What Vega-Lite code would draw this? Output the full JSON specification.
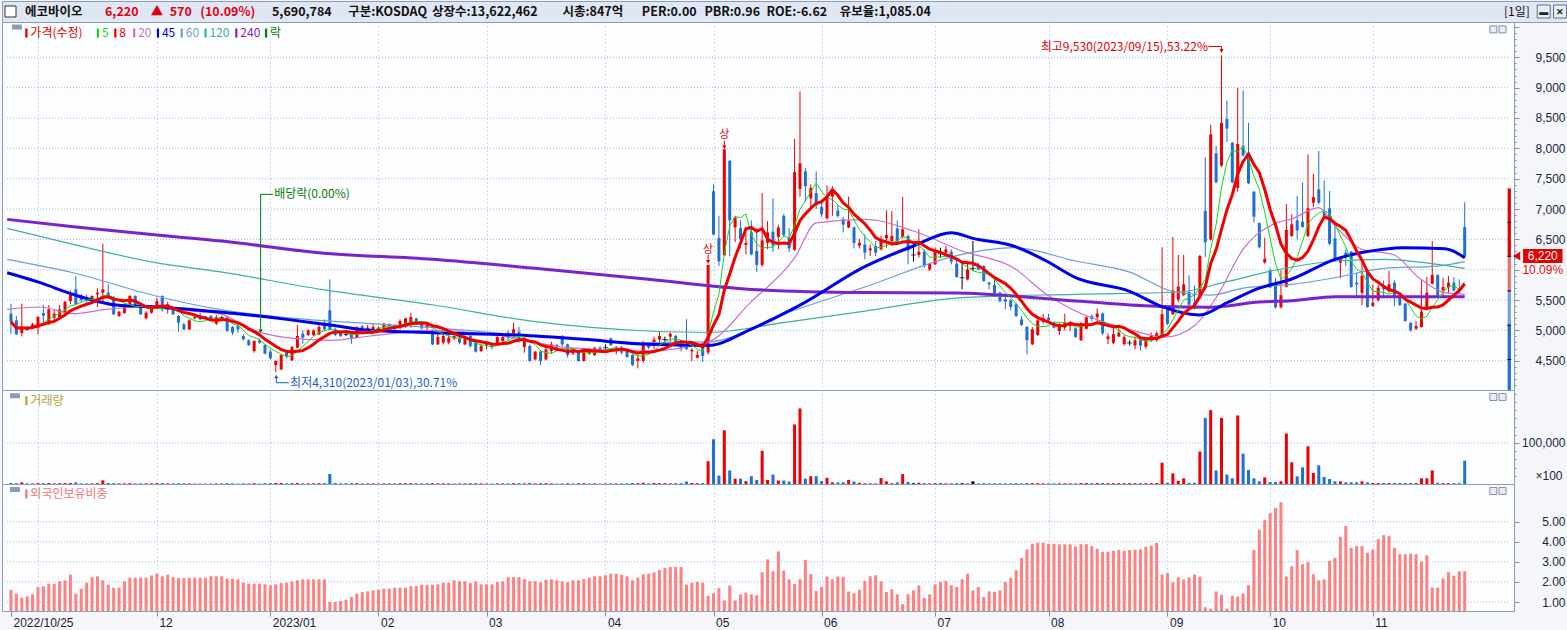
{
  "$schema": "https://vega.github.io/schema/vega-lite/v6.json",
  "background": "#f4f6f9",
  "padding": 0,
  "spacing": 0,
  "bounds": "flush",
  "resolve": {"scale": {"x": "independent", "y": "independent", "color": "independent"}},
  "config": {
    "view": {"fill": "#fcfdff", "stroke": "#8c9db7"},
    "font": "Noto Sans CJK KR",
    "axis": {"labelFont": "Liberation Sans", "labelFontSize": 12, "labelColor": "#1c2540", "tickColor": "#7d8ea8", "domainColor": "#8c9db7", "gridColor": "#aeb7c4", "gridDash": [1, 2]}
  },
  "datasets": {
    "c": [
      {"i":0,"o":5275,"h":5440,"l":4944,"c":5143,"v":250000,"f":1.61},
      {"i":1,"o":5165,"h":5236,"l":4923,"c":4934,"v":200000,"f":1.41},
      {"i":2,"o":4956,"h":5440,"l":4901,"c":5055,"v":400000,"f":1.21},
      {"i":3,"o":5044,"h":5072,"l":4989,"c":5006,"v":150000,"f":1.28},
      {"i":4,"o":5044,"h":5126,"l":5017,"c":5099,"v":150000,"f":1.38},
      {"i":5,"o":5044,"h":5236,"l":4934,"c":5220,"v":200000,"f":1.74},
      {"i":6,"o":5286,"h":5418,"l":5088,"c":5242,"v":200000,"f":1.78},
      {"i":7,"o":5099,"h":5418,"l":5088,"c":5346,"v":250000,"f":1.91},
      {"i":8,"o":5209,"h":5346,"l":5154,"c":5275,"v":150000,"f":1.91},
      {"i":9,"o":5220,"h":5418,"l":5209,"c":5346,"v":200000,"f":2.03},
      {"i":10,"o":5275,"h":5483,"l":5264,"c":5473,"v":250000,"f":2.08},
      {"i":11,"o":5483,"h":5659,"l":5429,"c":5582,"v":250000,"f":2.36},
      {"i":12,"o":5676,"h":5895,"l":5418,"c":5429,"v":400000,"f":1.41},
      {"i":13,"o":5577,"h":5593,"l":5473,"c":5495,"v":150000,"f":1.66},
      {"i":14,"o":5549,"h":5593,"l":5456,"c":5495,"v":150000,"f":1.96},
      {"i":15,"o":5473,"h":5577,"l":5456,"c":5566,"v":150000,"f":2.24},
      {"i":16,"o":5593,"h":5692,"l":5385,"c":5621,"v":200000,"f":2.28},
      {"i":17,"o":5621,"h":6428,"l":5440,"c":5676,"v":900000,"f":2.08},
      {"i":18,"o":5621,"h":5759,"l":5528,"c":5566,"v":250000,"f":1.86},
      {"i":19,"o":5549,"h":5566,"l":5253,"c":5264,"v":200000,"f":1.71},
      {"i":20,"o":5236,"h":5319,"l":5220,"c":5308,"v":150000,"f":1.71},
      {"i":21,"o":5286,"h":5429,"l":5275,"c":5418,"v":150000,"f":2.03},
      {"i":22,"o":5418,"h":5582,"l":5401,"c":5566,"v":200000,"f":2.21},
      {"i":23,"o":5566,"h":5577,"l":5401,"c":5418,"v":150000,"f":2.21},
      {"i":24,"o":5429,"h":5456,"l":5253,"c":5264,"v":150000,"f":2.21},
      {"i":25,"o":5198,"h":5319,"l":5181,"c":5291,"v":150000,"f":2.21},
      {"i":26,"o":5291,"h":5418,"l":5275,"c":5401,"v":150000,"f":2.32},
      {"i":27,"o":5374,"h":5539,"l":5346,"c":5483,"v":200000,"f":2.41},
      {"i":28,"o":5566,"h":5577,"l":5308,"c":5346,"v":200000,"f":2.28},
      {"i":29,"o":5346,"h":5473,"l":5275,"c":5429,"v":150000,"f":2.36},
      {"i":30,"o":5374,"h":5385,"l":5253,"c":5264,"v":150000,"f":2.24},
      {"i":31,"o":5236,"h":5253,"l":4978,"c":5126,"v":200000,"f":2.19},
      {"i":32,"o":5099,"h":5126,"l":5006,"c":5017,"v":150000,"f":2.19},
      {"i":33,"o":5017,"h":5181,"l":5006,"c":5165,"v":150000,"f":2.21},
      {"i":34,"o":5198,"h":5236,"l":5181,"c":5220,"v":100000,"f":2.21},
      {"i":35,"o":5253,"h":5291,"l":5165,"c":5181,"v":100000,"f":2.21},
      {"i":36,"o":5198,"h":5236,"l":5181,"c":5220,"v":100000,"f":2.21},
      {"i":37,"o":5236,"h":5253,"l":5165,"c":5181,"v":100000,"f":2.28},
      {"i":38,"o":5110,"h":5253,"l":5088,"c":5220,"v":150000,"f":2.28},
      {"i":39,"o":5209,"h":5236,"l":5181,"c":5209,"v":100000,"f":2.28},
      {"i":40,"o":5209,"h":5236,"l":4978,"c":4989,"v":200000,"f":2.16},
      {"i":41,"o":5055,"h":5072,"l":4923,"c":4962,"v":150000,"f":2.16},
      {"i":42,"o":5072,"h":5099,"l":4962,"c":5017,"v":100000,"f":2.13},
      {"i":43,"o":4907,"h":4934,"l":4835,"c":4852,"v":150000,"f":1.96},
      {"i":44,"o":4835,"h":4852,"l":4742,"c":4758,"v":150000,"f":1.91},
      {"i":45,"o":4660,"h":4835,"l":4632,"c":4824,"v":200000,"f":1.91},
      {"i":46,"o":4835,"h":4868,"l":4780,"c":4797,"v":100000,"f":1.91},
      {"i":47,"o":4758,"h":4769,"l":4605,"c":4616,"v":200000,"f":1.88},
      {"i":48,"o":4649,"h":4687,"l":4522,"c":4539,"v":200000,"f":1.83},
      {"i":49,"o":4429,"h":4506,"l":4310,"c":4495,"v":250000,"f":1.88},
      {"i":50,"o":4357,"h":4605,"l":4341,"c":4594,"v":250000,"f":1.94},
      {"i":51,"o":4632,"h":4687,"l":4539,"c":4577,"v":150000,"f":1.96},
      {"i":52,"o":4506,"h":4742,"l":4495,"c":4725,"v":200000,"f":2.03},
      {"i":53,"o":4715,"h":5088,"l":4704,"c":4907,"v":250000,"f":2.08},
      {"i":54,"o":4945,"h":5000,"l":4780,"c":4879,"v":150000,"f":2.13},
      {"i":55,"o":4923,"h":5017,"l":4907,"c":5000,"v":150000,"f":2.13},
      {"i":56,"o":4923,"h":5017,"l":4907,"c":5000,"v":150000,"f":2.13},
      {"i":57,"o":4934,"h":5126,"l":4923,"c":5055,"v":200000,"f":2.13},
      {"i":58,"o":5110,"h":5181,"l":4989,"c":5017,"v":200000,"f":2.13},
      {"i":59,"o":5330,"h":5841,"l":5000,"c":5017,"v":2440000,"f":1.00},
      {"i":60,"o":5017,"h":5044,"l":4907,"c":4923,"v":250000,"f":1.00},
      {"i":61,"o":4962,"h":4989,"l":4890,"c":4907,"v":150000,"f":1.05},
      {"i":62,"o":4934,"h":4962,"l":4907,"c":4934,"v":100000,"f":1.11},
      {"i":63,"o":4962,"h":4978,"l":4781,"c":4868,"v":200000,"f":1.25},
      {"i":64,"o":4879,"h":5072,"l":4868,"c":5044,"v":200000,"f":1.41},
      {"i":65,"o":5066,"h":5088,"l":4962,"c":4989,"v":150000,"f":1.49},
      {"i":66,"o":5000,"h":5088,"l":4962,"c":5044,"v":150000,"f":1.53},
      {"i":67,"o":4978,"h":5110,"l":4945,"c":5055,"v":150000,"f":1.58},
      {"i":68,"o":5000,"h":5066,"l":4978,"c":5044,"v":100000,"f":1.61},
      {"i":69,"o":5044,"h":5126,"l":5017,"c":5110,"v":150000,"f":1.66},
      {"i":70,"o":5088,"h":5110,"l":5066,"c":5088,"v":100000,"f":1.66},
      {"i":71,"o":5088,"h":5099,"l":5006,"c":5017,"v":150000,"f":1.71},
      {"i":72,"o":5044,"h":5181,"l":5017,"c":5154,"v":200000,"f":1.71},
      {"i":73,"o":5055,"h":5209,"l":5044,"c":5198,"v":200000,"f":1.71},
      {"i":74,"o":5099,"h":5291,"l":5044,"c":5220,"v":200000,"f":1.79},
      {"i":75,"o":5198,"h":5209,"l":5088,"c":5126,"v":150000,"f":1.79},
      {"i":76,"o":5126,"h":5154,"l":5017,"c":5033,"v":150000,"f":1.86},
      {"i":77,"o":5044,"h":5110,"l":4962,"c":5088,"v":150000,"f":1.86},
      {"i":78,"o":5000,"h":5017,"l":4758,"c":4769,"v":250000,"f":1.86},
      {"i":79,"o":4769,"h":4962,"l":4758,"c":4890,"v":150000,"f":1.88},
      {"i":80,"o":4797,"h":4945,"l":4769,"c":4907,"v":150000,"f":1.96},
      {"i":81,"o":4797,"h":4923,"l":4769,"c":4879,"v":150000,"f":1.96},
      {"i":82,"o":4868,"h":4945,"l":4835,"c":4907,"v":100000,"f":2.08},
      {"i":83,"o":4868,"h":4890,"l":4769,"c":4797,"v":150000,"f":2.03},
      {"i":84,"o":4769,"h":4907,"l":4752,"c":4868,"v":150000,"f":2.03},
      {"i":85,"o":4907,"h":4934,"l":4715,"c":4742,"v":200000,"f":1.94},
      {"i":86,"o":4797,"h":4813,"l":4632,"c":4649,"v":200000,"f":2.03},
      {"i":87,"o":4660,"h":4769,"l":4643,"c":4742,"v":150000,"f":1.88},
      {"i":88,"o":4742,"h":4797,"l":4687,"c":4769,"v":100000,"f":1.88},
      {"i":89,"o":4769,"h":4797,"l":4687,"c":4725,"v":100000,"f":1.88},
      {"i":90,"o":4758,"h":4923,"l":4742,"c":4890,"v":150000,"f":1.99},
      {"i":91,"o":4824,"h":4934,"l":4758,"c":4890,"v":150000,"f":2.03},
      {"i":92,"o":4962,"h":5000,"l":4824,"c":4879,"v":150000,"f":2.24},
      {"i":93,"o":4923,"h":5126,"l":4879,"c":5017,"v":200000,"f":2.24},
      {"i":94,"o":4978,"h":5055,"l":4797,"c":4824,"v":200000,"f":2.24},
      {"i":95,"o":4725,"h":4852,"l":4632,"c":4835,"v":150000,"f":2.14},
      {"i":96,"o":4742,"h":4769,"l":4484,"c":4495,"v":250000,"f":2.03},
      {"i":97,"o":4522,"h":4660,"l":4506,"c":4649,"v":150000,"f":2.03},
      {"i":98,"o":4649,"h":4671,"l":4429,"c":4495,"v":200000,"f":1.98},
      {"i":99,"o":4522,"h":4769,"l":4506,"c":4687,"v":200000,"f":2.11},
      {"i":100,"o":4660,"h":4813,"l":4616,"c":4769,"v":150000,"f":2.13},
      {"i":101,"o":4758,"h":4780,"l":4704,"c":4715,"v":100000,"f":2.08},
      {"i":102,"o":4890,"h":4923,"l":4742,"c":4769,"v":150000,"f":2.03},
      {"i":103,"o":4769,"h":4780,"l":4550,"c":4594,"v":200000,"f":1.99},
      {"i":104,"o":4616,"h":4687,"l":4594,"c":4660,"v":100000,"f":2.08},
      {"i":105,"o":4649,"h":4671,"l":4484,"c":4495,"v":200000,"f":2.08},
      {"i":106,"o":4495,"h":4715,"l":4484,"c":4687,"v":200000,"f":2.14},
      {"i":107,"o":4616,"h":4715,"l":4594,"c":4660,"v":100000,"f":2.21},
      {"i":108,"o":4594,"h":4725,"l":4577,"c":4715,"v":150000,"f":2.28},
      {"i":109,"o":4715,"h":4742,"l":4632,"c":4660,"v":100000,"f":2.28},
      {"i":110,"o":4715,"h":4769,"l":4660,"c":4715,"v":100000,"f":2.33},
      {"i":111,"o":4868,"h":4879,"l":4742,"c":4758,"v":150000,"f":2.41},
      {"i":112,"o":4660,"h":4742,"l":4605,"c":4715,"v":150000,"f":2.41},
      {"i":113,"o":4715,"h":4742,"l":4605,"c":4632,"v":150000,"f":2.36},
      {"i":114,"o":4687,"h":4704,"l":4550,"c":4561,"v":150000,"f":2.28},
      {"i":115,"o":4594,"h":4605,"l":4412,"c":4429,"v":250000,"f":2.08},
      {"i":116,"o":4495,"h":4605,"l":4374,"c":4539,"v":200000,"f":2.21},
      {"i":117,"o":4495,"h":4824,"l":4467,"c":4769,"v":300000,"f":2.38},
      {"i":118,"o":4780,"h":4797,"l":4687,"c":4715,"v":150000,"f":2.41},
      {"i":119,"o":4751,"h":4895,"l":4693,"c":4849,"v":250000,"f":2.48},
      {"i":120,"o":4849,"h":4982,"l":4809,"c":4907,"v":200000,"f":2.60},
      {"i":121,"o":4849,"h":4895,"l":4780,"c":4849,"v":150000,"f":2.70},
      {"i":122,"o":4895,"h":4965,"l":4791,"c":4942,"v":150000,"f":2.74},
      {"i":123,"o":4907,"h":4924,"l":4751,"c":4768,"v":200000,"f":2.74},
      {"i":124,"o":4780,"h":4809,"l":4653,"c":4711,"v":200000,"f":2.74},
      {"i":125,"o":4751,"h":5184,"l":4676,"c":4693,"v":600000,"f":1.87},
      {"i":126,"o":4653,"h":4711,"l":4491,"c":4676,"v":250000,"f":1.96},
      {"i":127,"o":4549,"h":4665,"l":4537,"c":4595,"v":200000,"f":2.00},
      {"i":128,"o":4722,"h":4780,"l":4480,"c":4578,"v":250000,"f":1.96},
      {"i":129,"o":4636,"h":6079,"l":4600,"c":6079,"v":5550000,"f":1.31},
      {"i":130,"o":7291,"h":7406,"l":6569,"c":6581,"v":10900000,"f":1.43},
      {"i":131,"o":6523,"h":6887,"l":6061,"c":6136,"v":2050000,"f":1.69},
      {"i":132,"o":6235,"h":7984,"l":6235,"c":7984,"v":13100000,"f":1.08},
      {"i":133,"o":7793,"h":7810,"l":6223,"c":6812,"v":3300000,"f":1.82},
      {"i":134,"o":6696,"h":6887,"l":6454,"c":6858,"v":1300000,"f":1.08},
      {"i":135,"o":6685,"h":6812,"l":6350,"c":6500,"v":1300000,"f":1.38},
      {"i":136,"o":6408,"h":6685,"l":6252,"c":6442,"v":700000,"f":1.47},
      {"i":137,"o":6615,"h":6812,"l":6235,"c":6252,"v":1900000,"f":1.38},
      {"i":138,"o":6310,"h":6685,"l":5963,"c":6079,"v":1000000,"f":1.34},
      {"i":139,"o":6079,"h":7262,"l":6050,"c":6483,"v":8100000,"f":2.48},
      {"i":140,"o":6442,"h":6800,"l":6338,"c":6615,"v":1000000,"f":3.12},
      {"i":141,"o":6627,"h":7175,"l":6292,"c":6396,"v":2300000,"f":2.53},
      {"i":142,"o":6540,"h":6742,"l":6338,"c":6696,"v":850000,"f":3.52},
      {"i":143,"o":6887,"h":6916,"l":6540,"c":6569,"v":850000,"f":2.56},
      {"i":144,"o":6523,"h":6685,"l":6292,"c":6350,"v":600000,"f":2.13},
      {"i":145,"o":6327,"h":8157,"l":6310,"c":7608,"v":14500000,"f":1.90},
      {"i":146,"o":7331,"h":8936,"l":7204,"c":7752,"v":18400000,"f":2.13},
      {"i":147,"o":7620,"h":7677,"l":7118,"c":7377,"v":1300000,"f":3.09},
      {"i":148,"o":7175,"h":7406,"l":7031,"c":7349,"v":1900000,"f":2.39},
      {"i":149,"o":7262,"h":7620,"l":7002,"c":7060,"v":1900000,"f":1.55},
      {"i":150,"o":7031,"h":7147,"l":6869,"c":6916,"v":700000,"f":1.75},
      {"i":151,"o":6846,"h":7389,"l":6829,"c":7204,"v":1500000,"f":2.27},
      {"i":152,"o":7204,"h":7377,"l":6887,"c":7262,"v":400000,"f":2.13},
      {"i":153,"o":6973,"h":7060,"l":6858,"c":6887,"v":400000,"f":2.27},
      {"i":154,"o":6829,"h":6869,"l":6615,"c":6742,"v":400000,"f":2.25},
      {"i":155,"o":6696,"h":7204,"l":6685,"c":6800,"v":1000000,"f":1.52},
      {"i":156,"o":6696,"h":6714,"l":6350,"c":6442,"v":600000,"f":1.43},
      {"i":157,"o":6396,"h":6511,"l":6350,"c":6442,"v":300000,"f":1.61},
      {"i":158,"o":6417,"h":6582,"l":6170,"c":6280,"v":200000,"f":2.05},
      {"i":159,"o":6318,"h":6417,"l":6225,"c":6351,"v":150000,"f":2.28},
      {"i":160,"o":6390,"h":6472,"l":6225,"c":6280,"v":150000,"f":2.33},
      {"i":161,"o":6335,"h":6555,"l":6318,"c":6500,"v":1460000,"f":2.03},
      {"i":162,"o":6516,"h":6978,"l":6362,"c":6571,"v":650000,"f":1.50},
      {"i":163,"o":6472,"h":6967,"l":6390,"c":6555,"v":200000,"f":1.63},
      {"i":164,"o":6681,"h":6813,"l":6445,"c":6461,"v":400000,"f":1.38},
      {"i":165,"o":6538,"h":7197,"l":6516,"c":6665,"v":2400000,"f":0.89},
      {"i":166,"o":6555,"h":6582,"l":6088,"c":6318,"v":500000,"f":1.38},
      {"i":167,"o":6242,"h":6417,"l":6132,"c":6242,"v":200000,"f":1.58},
      {"i":168,"o":6242,"h":6665,"l":6198,"c":6297,"v":300000,"f":1.83},
      {"i":169,"o":6297,"h":6335,"l":6033,"c":6060,"v":200000,"f":1.20},
      {"i":170,"o":6005,"h":6115,"l":5978,"c":6099,"v":150000,"f":1.38},
      {"i":171,"o":6088,"h":6362,"l":6077,"c":6335,"v":200000,"f":1.88},
      {"i":172,"o":6264,"h":6362,"l":6198,"c":6264,"v":150000,"f":2.00},
      {"i":173,"o":6280,"h":6390,"l":6225,"c":6335,"v":150000,"f":2.05},
      {"i":174,"o":6297,"h":6335,"l":6088,"c":6132,"v":150000,"f":1.83},
      {"i":175,"o":6099,"h":6170,"l":5868,"c":5879,"v":200000,"f":1.75},
      {"i":176,"o":5868,"h":6115,"l":5676,"c":5868,"v":200000,"f":2.13},
      {"i":177,"o":5841,"h":6115,"l":5824,"c":6005,"v":150000,"f":2.41},
      {"i":178,"o":6022,"h":6472,"l":5978,"c":6022,"v":650000,"f":1.58},
      {"i":179,"o":6044,"h":6115,"l":5989,"c":6005,"v":150000,"f":1.75},
      {"i":180,"o":6060,"h":6077,"l":5802,"c":5813,"v":200000,"f":1.25},
      {"i":181,"o":5786,"h":5802,"l":5676,"c":5758,"v":150000,"f":1.53},
      {"i":182,"o":5747,"h":5841,"l":5566,"c":5604,"v":200000,"f":1.50},
      {"i":183,"o":5621,"h":5637,"l":5456,"c":5484,"v":150000,"f":1.58},
      {"i":184,"o":5511,"h":5604,"l":5346,"c":5473,"v":150000,"f":2.00},
      {"i":185,"o":5495,"h":5511,"l":5330,"c":5385,"v":150000,"f":2.20},
      {"i":186,"o":5429,"h":5456,"l":5220,"c":5236,"v":200000,"f":2.58},
      {"i":187,"o":5181,"h":5236,"l":5072,"c":5088,"v":150000,"f":3.19},
      {"i":188,"o":5055,"h":5072,"l":4605,"c":4835,"v":250000,"f":3.62},
      {"i":189,"o":4769,"h":5055,"l":4758,"c":5017,"v":200000,"f":3.90},
      {"i":190,"o":4923,"h":5181,"l":4907,"c":5165,"v":200000,"f":3.95},
      {"i":191,"o":5143,"h":5275,"l":5110,"c":5198,"v":150000,"f":3.95},
      {"i":192,"o":5209,"h":5275,"l":5143,"c":5165,"v":150000,"f":3.90},
      {"i":193,"o":5127,"h":5154,"l":5033,"c":5044,"v":150000,"f":3.90},
      {"i":194,"o":4989,"h":5127,"l":4923,"c":5099,"v":150000,"f":3.87},
      {"i":195,"o":5044,"h":5275,"l":5000,"c":5127,"v":150000,"f":3.87},
      {"i":196,"o":5072,"h":5154,"l":4989,"c":5099,"v":150000,"f":3.87},
      {"i":197,"o":5033,"h":5044,"l":4879,"c":4890,"v":150000,"f":3.77},
      {"i":198,"o":4837,"h":5140,"l":4825,"c":5108,"v":250000,"f":3.88},
      {"i":199,"o":5026,"h":5234,"l":5014,"c":5215,"v":250000,"f":3.88},
      {"i":200,"o":5234,"h":5266,"l":5152,"c":5190,"v":200000,"f":3.78},
      {"i":201,"o":5215,"h":5360,"l":5108,"c":5278,"v":250000,"f":3.65},
      {"i":202,"o":5278,"h":5297,"l":4919,"c":4951,"v":250000,"f":3.50},
      {"i":203,"o":4856,"h":4951,"l":4774,"c":4900,"v":200000,"f":3.50},
      {"i":204,"o":4793,"h":5045,"l":4774,"c":4938,"v":200000,"f":3.55},
      {"i":205,"o":4900,"h":5064,"l":4888,"c":4963,"v":200000,"f":3.59},
      {"i":206,"o":4774,"h":4919,"l":4749,"c":4888,"v":200000,"f":3.55},
      {"i":207,"o":4793,"h":4837,"l":4749,"c":4793,"v":150000,"f":3.59},
      {"i":208,"o":4749,"h":4900,"l":4686,"c":4837,"v":200000,"f":3.60},
      {"i":209,"o":4837,"h":4856,"l":4667,"c":4749,"v":200000,"f":3.62},
      {"i":210,"o":4730,"h":4888,"l":4698,"c":4837,"v":200000,"f":3.75},
      {"i":211,"o":4837,"h":4963,"l":4812,"c":4919,"v":200000,"f":3.80},
      {"i":212,"o":4837,"h":4982,"l":4812,"c":4951,"v":250000,"f":3.94},
      {"i":213,"o":4888,"h":6370,"l":4875,"c":5266,"v":5200000,"f":2.37},
      {"i":214,"o":5342,"h":5361,"l":5089,"c":5108,"v":300000,"f":2.44},
      {"i":215,"o":5266,"h":6540,"l":5253,"c":5657,"v":2600000,"f":1.98},
      {"i":216,"o":5505,"h":6244,"l":5468,"c":5720,"v":750000,"f":2.22},
      {"i":217,"o":5581,"h":6244,"l":5568,"c":5758,"v":1400000,"f":2.12},
      {"i":218,"o":5632,"h":5909,"l":5404,"c":5424,"v":300000,"f":2.22},
      {"i":219,"o":5455,"h":5739,"l":5342,"c":5360,"v":300000,"f":2.37},
      {"i":220,"o":5531,"h":6244,"l":5518,"c":6225,"v":7900000,"f":2.27},
      {"i":221,"o":6969,"h":7852,"l":6212,"c":6452,"v":16100000,"f":0.74},
      {"i":222,"o":6496,"h":8388,"l":6477,"c":8230,"v":18000000,"f":0.67},
      {"i":223,"o":7915,"h":8041,"l":7423,"c":7442,"v":3300000,"f":1.52},
      {"i":224,"o":7713,"h":9530,"l":7694,"c":8419,"v":16100000,"f":1.36},
      {"i":225,"o":8482,"h":8785,"l":8104,"c":8325,"v":2300000,"f":0.67},
      {"i":226,"o":8091,"h":8104,"l":7423,"c":7442,"v":1400000,"f":1.31},
      {"i":227,"o":7347,"h":8999,"l":7284,"c":8072,"v":16700000,"f":1.27},
      {"i":228,"o":8041,"h":8955,"l":7864,"c":7883,"v":7400000,"f":1.42},
      {"i":229,"o":7928,"h":8419,"l":7410,"c":7423,"v":3400000,"f":1.84},
      {"i":230,"o":7284,"h":7297,"l":6780,"c":6874,"v":1400000,"f":3.59},
      {"i":231,"o":6767,"h":6780,"l":6351,"c":6370,"v":650000,"f":4.60},
      {"i":232,"o":6117,"h":6527,"l":6098,"c":6180,"v":1600000,"f":5.08},
      {"i":233,"o":5991,"h":6023,"l":5695,"c":5707,"v":470000,"f":5.42},
      {"i":234,"o":5783,"h":5865,"l":5361,"c":5379,"v":470000,"f":5.69},
      {"i":235,"o":5379,"h":5991,"l":5361,"c":5581,"v":650000,"f":5.97},
      {"i":236,"o":5720,"h":7082,"l":5707,"c":6654,"v":12300000,"f":2.27},
      {"i":237,"o":6555,"h":6912,"l":6538,"c":6747,"v":5300000,"f":2.78},
      {"i":238,"o":6813,"h":7214,"l":6500,"c":6648,"v":1870000,"f":3.58},
      {"i":239,"o":6791,"h":7434,"l":6692,"c":6703,"v":4070000,"f":2.88},
      {"i":240,"o":6555,"h":7900,"l":6538,"c":7011,"v":9200000,"f":2.98},
      {"i":241,"o":7104,"h":7582,"l":7033,"c":7197,"v":2700000,"f":2.38},
      {"i":242,"o":7324,"h":7955,"l":7077,"c":7104,"v":4550000,"f":2.08},
      {"i":243,"o":6956,"h":7472,"l":6868,"c":6884,"v":1700000,"f":2.13},
      {"i":244,"o":7011,"h":7296,"l":6406,"c":6428,"v":1200000,"f":3.05},
      {"i":245,"o":6516,"h":6758,"l":6132,"c":6154,"v":650000,"f":3.20},
      {"i":246,"o":6115,"h":6225,"l":5857,"c":6209,"v":650000,"f":4.25},
      {"i":247,"o":6280,"h":6335,"l":6060,"c":6209,"v":400000,"f":4.78},
      {"i":248,"o":6297,"h":6307,"l":5703,"c":5714,"v":400000,"f":3.70},
      {"i":249,"o":5786,"h":5951,"l":5539,"c":5758,"v":400000,"f":3.78},
      {"i":250,"o":5621,"h":6115,"l":5418,"c":5896,"v":650000,"f":3.78},
      {"i":251,"o":5967,"h":5978,"l":5374,"c":5385,"v":400000,"f":3.45},
      {"i":252,"o":5401,"h":5758,"l":5385,"c":5456,"v":250000,"f":3.61},
      {"i":253,"o":5495,"h":5747,"l":5473,"c":5703,"v":250000,"f":4.13},
      {"i":254,"o":5747,"h":5824,"l":5528,"c":5676,"v":250000,"f":4.33},
      {"i":255,"o":5648,"h":5978,"l":5621,"c":5758,"v":250000,"f":4.28},
      {"i":256,"o":5786,"h":5824,"l":5401,"c":5549,"v":250000,"f":3.70},
      {"i":257,"o":5593,"h":5621,"l":5401,"c":5418,"v":250000,"f":3.38},
      {"i":258,"o":5440,"h":5456,"l":5143,"c":5154,"v":250000,"f":3.38},
      {"i":259,"o":5121,"h":5143,"l":4978,"c":5000,"v":250000,"f":3.41},
      {"i":260,"o":5028,"h":5154,"l":5006,"c":5072,"v":250000,"f":3.38},
      {"i":261,"o":5055,"h":5824,"l":5044,"c":5308,"v":1400000,"f":3.00},
      {"i":262,"o":5346,"h":5879,"l":5330,"c":5621,"v":1400000,"f":3.33},
      {"i":263,"o":5769,"h":6472,"l":5758,"c":5912,"v":3300000,"f":1.72},
      {"i":264,"o":5912,"h":5923,"l":5566,"c":5582,"v":300000,"f":1.72},
      {"i":265,"o":5659,"h":5868,"l":5549,"c":5714,"v":200000,"f":2.17},
      {"i":266,"o":5714,"h":5896,"l":5604,"c":5786,"v":200000,"f":2.48},
      {"i":267,"o":5786,"h":5879,"l":5637,"c":5659,"v":200000,"f":2.30},
      {"i":268,"o":5692,"h":5841,"l":5604,"c":5650,"v":200000,"f":2.53},
      {"i":269,"o":6703,"h":7110,"l":6187,"c":6220,"v":5690784,"f":2.53}
    ],
    "ma": [
      {"k":"240","i":-0.7,"v":6829},{"k":"240","i":12,"v":6703},{"k":"240","i":27,"v":6571},{"k":"240","i":39,"v":6472},{"k":"240","i":57,"v":6280},{"k":"240","i":78,"v":6170},{"k":"240","i":97,"v":6022},{"k":"240","i":118,"v":5841},{"k":"240","i":137,"v":5675},{"k":"240","i":158,"v":5623},{"k":"240","i":175,"v":5615},{"k":"240","i":197,"v":5484},{"k":"240","i":213,"v":5392},{"k":"240","i":222,"v":5380},{"k":"240","i":231,"v":5468},{"k":"240","i":237,"v":5487},{"k":"240","i":245,"v":5555},{"k":"240","i":269,"v":5555},
      {"k":"120","i":-0.7,"v":6681},{"k":"120","i":11.5,"v":6417},{"k":"120","i":26.8,"v":6115},{"k":"120","i":38.5,"v":5967},{"k":"120","i":57.4,"v":5676},{"k":"120","i":78.2,"v":5418},{"k":"120","i":97,"v":5143},{"k":"120","i":118,"v":4989},{"k":"120","i":129,"v":4965},{"k":"120","i":143,"v":5126},{"k":"120","i":158,"v":5317},{"k":"120","i":176,"v":5539},{"k":"120","i":197,"v":5594},{"k":"120","i":216,"v":5632},{"k":"120","i":225,"v":5802},{"k":"120","i":234,"v":5991},{"k":"120","i":245,"v":6143},{"k":"120","i":254,"v":6170},{"k":"120","i":264,"v":6088},{"k":"120","i":269,"v":6022},
      {"k":"60","i":-0.7,"v":6170},{"k":"60","i":11.5,"v":5950},{"k":"60","i":26.8,"v":5566},{"k":"60","i":38.5,"v":5346},{"k":"60","i":51,"v":5209},{"k":"60","i":66.5,"v":5110},{"k":"60","i":78,"v":5044},{"k":"60","i":97,"v":4907},{"k":"60","i":118,"v":4797},{"k":"60","i":129,"v":4809},{"k":"60","i":143,"v":5271},{"k":"60","i":158,"v":5715},{"k":"60","i":176,"v":6253},{"k":"60","i":185.5,"v":6363},{"k":"60","i":197,"v":6143},{"k":"60","i":207,"v":5960},{"k":"60","i":215,"v":5644},{"k":"60","i":222,"v":5581},{"k":"60","i":228,"v":5695},{"k":"60","i":237,"v":5758},{"k":"60","i":245,"v":5868},{"k":"60","i":254,"v":6022},{"k":"60","i":264,"v":6060},{"k":"60","i":269,"v":6132},
      {"k":"45","i":-0.7,"v":5950},{"k":"45","i":5.4,"v":5786},{"k":"45","i":11.5,"v":5593},{"k":"45","i":19.5,"v":5418},{"k":"45","i":26.8,"v":5385},{"k":"45","i":38.5,"v":5302},{"k":"45","i":51,"v":5181},{"k":"45","i":59,"v":5088},{"k":"45","i":66.5,"v":5000},{"k":"45","i":78,"v":4962},{"k":"45","i":97,"v":4907},{"k":"45","i":106,"v":4852},{"k":"45","i":118,"v":4769},{"k":"45","i":129,"v":4751},{"k":"45","i":137,"v":5022},{"k":"45","i":146,"v":5415},{"k":"45","i":158,"v":6050},{"k":"45","i":167,"v":6390},{"k":"45","i":174,"v":6610},{"k":"45","i":178,"v":6516},{"k":"45","i":185.5,"v":6390},{"k":"45","i":191.6,"v":6143},{"k":"45","i":197,"v":5868},{"k":"45","i":207,"v":5644},{"k":"45","i":213,"v":5392},{"k":"45","i":220,"v":5253},{"k":"45","i":225,"v":5455},{"k":"45","i":231,"v":5695},{"k":"45","i":237,"v":5846},{"k":"45","i":245,"v":6170},{"k":"45","i":254,"v":6335},{"k":"45","i":257.5,"v":6362},{"k":"45","i":265.4,"v":6346},{"k":"45","i":269,"v":6198},
      {"k":"20","i":-0.7,"v":5346},{"k":"20","i":5.4,"v":5385},{"k":"20","i":11.5,"v":5275},{"k":"20","i":17.6,"v":5346},{"k":"20","i":26.8,"v":5401},{"k":"20","i":33,"v":5319},{"k":"20","i":38.5,"v":5275},{"k":"20","i":45,"v":5000},{"k":"20","i":51,"v":4879},{"k":"20","i":59,"v":4835},{"k":"20","i":66.5,"v":4907},{"k":"20","i":78,"v":5000},{"k":"20","i":91,"v":4907},{"k":"20","i":103,"v":4715},{"k":"20","i":118,"v":4660},{"k":"20","i":129,"v":4809},{"k":"20","i":137,"v":5473},{"k":"20","i":145,"v":6194},{"k":"20","i":149,"v":6771},{"k":"20","i":158,"v":6829},{"k":"20","i":167,"v":6637},{"k":"20","i":176,"v":6307},{"k":"20","i":185.5,"v":6033},{"k":"20","i":191.6,"v":5594},{"k":"20","i":197,"v":5319},{"k":"20","i":207,"v":5014},{"k":"20","i":213.5,"v":4888},{"k":"20","i":219,"v":5077},{"k":"20","i":223.3,"v":5581},{"k":"20","i":228,"v":6338},{"k":"20","i":234.4,"v":6780},{"k":"20","i":236.8,"v":6830},{"k":"20","i":242,"v":7022},{"k":"20","i":245,"v":6720},{"k":"20","i":250,"v":6335},{"k":"20","i":256,"v":6241},{"k":"20","i":260.5,"v":5868},{"k":"20","i":265.4,"v":5621},{"k":"20","i":269,"v":5594}
    ]
  },
  "vconcat": [
    {
      "width": 1567,
      "height": 21,
      "view": {"fill": "#dfe7f5", "stroke": "#8c9db7"},
      "resolve": {"scale": {"color": "independent"}},
      "layer": [
        {
          "data": {"values": [
            {"t": "에코바이오", "i": 3.5, "g": "name"},
            {"t": "6,220", "i": 18.2, "g": "up"},
            {"t": "▲", "i": 26.6, "g": "up"},
            {"t": "570", "i": 30.1, "g": "up"},
            {"t": "(10.09%)", "i": 35.7, "g": "up"},
            {"t": "5,690,784", "i": 48.9, "g": "name"},
            {"t": "구분:KOSDAQ", "i": 62.9, "g": "name"},
            {"t": "상장수:13,622,462", "i": 78.3, "g": "name"},
            {"t": "시총:847억", "i": 102.3, "g": "name"},
            {"t": "PER:0.00", "i": 116.9, "g": "name"},
            {"t": "PBR:0.96", "i": 128.4, "g": "name"},
            {"t": "ROE:-6.62", "i": 139.8, "g": "name"},
            {"t": "유보율:1,085.04", "i": 153.3, "g": "name"}
          ]},
          "mark": {"type": "text", "align": "left", "baseline": "middle", "font": "Noto Sans CJK KR", "fontSize": 12.5, "fontWeight": "bold"},
          "encoding": {
            "x": {"field": "i", "type": "quantitative", "scale": {"domain": [-0.735, 287.35], "nice": false, "zero": false}, "axis": null},
            "text": {"field": "t"},
            "color": {"field": "g", "type": "nominal", "scale": {"domain": ["name", "up"], "range": ["#111111", "#e4000f"]}, "legend": null}
          }
        },
        {
          "data": {"values": [{"t": "[1일]", "i": 275.4}]},
          "mark": {"type": "text", "align": "left", "baseline": "middle", "fontSize": 12, "color": "#111111"},
          "encoding": {
            "x": {"field": "i", "type": "quantitative", "scale": {"domain": [-0.735, 287.35], "nice": false, "zero": false}, "axis": null},
            "text": {"field": "t"}
          }
        },
        {
          "data": {"values": [{"i": 0.83}]},
          "mark": {"type": "point", "shape": "square", "size": 121, "filled": true, "fill": "#ffffff", "stroke": "#333333", "strokeWidth": 1, "opacity": 1},
          "encoding": {"x": {"field": "i", "type": "quantitative", "scale": {"domain": [-0.735, 287.35], "nice": false, "zero": false}, "axis": null}}
        },
        {
          "data": {"values": [{"i": 282.7, "t": "▬"}, {"i": 285.7, "t": "✕"}]},
          "layer": [
            {
              "mark": {"type": "point", "shape": "square", "size": 169, "filled": true, "fill": "#e8edf5", "stroke": "#5f6f88", "strokeWidth": 1, "opacity": 1},
              "encoding": {"x": {"field": "i", "type": "quantitative", "scale": {"domain": [-0.735, 287.35], "nice": false, "zero": false}, "axis": null}}
            },
            {
              "mark": {"type": "text", "align": "center", "baseline": "middle", "fontSize": 9, "fontWeight": "bold", "color": "#222222"},
              "encoding": {"x": {"field": "i", "type": "quantitative", "scale": {"domain": [-0.735, 287.35], "nice": false, "zero": false}, "axis": null}, "text": {"field": "t"}}
            }
          ]
        }
      ]
    },
    {
      "width": 1512,
      "height": 368,
      "resolve": {"scale": {"color": "independent", "shape": "independent"}},
      "encoding": {
        "x": {"field": "i", "type": "quantitative", "scale": {"domain": [-0.735, 277.2], "nice": false, "zero": false},
              "axis": {"values": [5, 27, 48, 68, 88, 110, 130, 150, 171, 192, 214, 233, 252], "labels": false, "ticks": false, "domain": false, "grid": true, "gridDash": [1, 3], "title": null}}
      },
      "layer": [
        {
          "data": {"values": [
            {"i": -0.735, "i2": 277.2, "p": 4500}, {"i": -0.735, "i2": 277.2, "p": 5000}, {"i": -0.735, "i2": 277.2, "p": 5500}, {"i": -0.735, "i2": 277.2, "p": 6000},
            {"i": -0.735, "i2": 277.2, "p": 6500}, {"i": -0.735, "i2": 277.2, "p": 7000}, {"i": -0.735, "i2": 277.2, "p": 7500}, {"i": -0.735, "i2": 277.2, "p": 8000},
            {"i": -0.735, "i2": 277.2, "p": 8500}, {"i": -0.735, "i2": 277.2, "p": 9000}, {"i": -0.735, "i2": 277.2, "p": 9500}
          ]},
          "mark": {"type": "rule", "strokeWidth": 1, "strokeDash": [1, 2], "color": "#b2bac6"},
          "encoding": {
            "x2": {"field": "i2"},
            "y": {"field": "p", "type": "quantitative", "scale": {"domain": [4017, 10082], "nice": false, "zero": false}, "axis": {"orient": "right", "title": null, "values": [4100,4200,4300,4400,4500,4600,4700,4800,4900,5000,5100,5200,5300,5400,5500,5600,5700,5800,5900,6000,6100,6200,6300,6400,6500,6600,6700,6800,6900,7000,7100,7200,7300,7400,7500,7600,7700,7800,7900,8000,8100,8200,8300,8400,8500,8600,8700,8800,8900,9000,9100,9200,9300,9400,9500,9600,9700,9800,9900,10000], "labelExpr": "datum.value % 500 === 0 && datum.value !== 6000 && datum.value <= 9500 ? format(datum.value, ',') : ''", "labelOverlap": false, "tickSize": {"condition": {"test": "datum.value % 500 === 0", "value": 5}, "value": 2}, "grid": false, "labelAlign": "right", "labelPadding": 46, "minExtent": 55, "maxExtent": 55}}
          }
        },
        {
          "data": {"name": "c"},
          "mark": {"type": "rule", "strokeWidth": 1},
          "encoding": {
            "y": {"field": "l", "type": "quantitative", "scale": {"domain": [4017, 10082], "nice": false, "zero": false}, "axis": {"orient": "right", "title": null, "values": [4100,4200,4300,4400,4500,4600,4700,4800,4900,5000,5100,5200,5300,5400,5500,5600,5700,5800,5900,6000,6100,6200,6300,6400,6500,6600,6700,6800,6900,7000,7100,7200,7300,7400,7500,7600,7700,7800,7900,8000,8100,8200,8300,8400,8500,8600,8700,8800,8900,9000,9100,9200,9300,9400,9500,9600,9700,9800,9900,10000], "labelExpr": "datum.value % 500 === 0 && datum.value !== 6000 && datum.value <= 9500 ? format(datum.value, ',') : ''", "labelOverlap": false, "tickSize": {"condition": {"test": "datum.value % 500 === 0", "value": 5}, "value": 2}, "grid": false, "labelAlign": "right", "labelPadding": 46, "minExtent": 55, "maxExtent": 55}},
            "y2": {"field": "h"},
            "color": {"condition": [{"test": "datum.c > datum.o", "value": "#ee0000"}, {"test": "datum.c < datum.o", "value": "#1f6fd5"}], "value": "#000000"}
          }
        },
        {
          "data": {"name": "c"},
          "transform": [{"filter": "datum.o != datum.c"}],
          "mark": {"type": "bar", "width": 3},
          "encoding": {
            "y": {"field": "o", "type": "quantitative", "scale": {"domain": [4017, 10082], "nice": false, "zero": false}, "axis": {"orient": "right", "title": null, "values": [4100,4200,4300,4400,4500,4600,4700,4800,4900,5000,5100,5200,5300,5400,5500,5600,5700,5800,5900,6000,6100,6200,6300,6400,6500,6600,6700,6800,6900,7000,7100,7200,7300,7400,7500,7600,7700,7800,7900,8000,8100,8200,8300,8400,8500,8600,8700,8800,8900,9000,9100,9200,9300,9400,9500,9600,9700,9800,9900,10000], "labelExpr": "datum.value % 500 === 0 && datum.value !== 6000 && datum.value <= 9500 ? format(datum.value, ',') : ''", "labelOverlap": false, "tickSize": {"condition": {"test": "datum.value % 500 === 0", "value": 5}, "value": 2}, "grid": false, "labelAlign": "right", "labelPadding": 46, "minExtent": 55, "maxExtent": 55}},
            "y2": {"field": "c"},
            "color": {"condition": [{"test": "datum.c > datum.o", "value": "#ee0000"}], "value": "#1f6fd5"}
          }
        },
        {
          "data": {"name": "c"},
          "transform": [{"filter": "datum.o == datum.c"}],
          "mark": {"type": "tick", "orient": "horizontal", "size": 5, "thickness": 1, "color": "#000000"},
          "encoding": {
            "y": {"field": "c", "type": "quantitative", "scale": {"domain": [4017, 10082], "nice": false, "zero": false}, "axis": {"orient": "right", "title": null, "values": [4100,4200,4300,4400,4500,4600,4700,4800,4900,5000,5100,5200,5300,5400,5500,5600,5700,5800,5900,6000,6100,6200,6300,6400,6500,6600,6700,6800,6900,7000,7100,7200,7300,7400,7500,7600,7700,7800,7900,8000,8100,8200,8300,8400,8500,8600,8700,8800,8900,9000,9100,9200,9300,9400,9500,9600,9700,9800,9900,10000], "labelExpr": "datum.value % 500 === 0 && datum.value !== 6000 && datum.value <= 9500 ? format(datum.value, ',') : ''", "labelOverlap": false, "tickSize": {"condition": {"test": "datum.value % 500 === 0", "value": 5}, "value": 2}, "grid": false, "labelAlign": "right", "labelPadding": 46, "minExtent": 55, "maxExtent": 55}}
          }
        },
        {
          "data": {"name": "ma"},
          "transform": [{"filter": "datum.k == '120'"}],
          "mark": {"type": "line", "strokeWidth": 1.2, "color": "#3fb09c", "interpolate": "monotone"},
          "encoding": {"y": {"field": "v", "type": "quantitative", "scale": {"domain": [4017, 10082], "nice": false, "zero": false}, "axis": {"orient": "right", "title": null, "values": [4100,4200,4300,4400,4500,4600,4700,4800,4900,5000,5100,5200,5300,5400,5500,5600,5700,5800,5900,6000,6100,6200,6300,6400,6500,6600,6700,6800,6900,7000,7100,7200,7300,7400,7500,7600,7700,7800,7900,8000,8100,8200,8300,8400,8500,8600,8700,8800,8900,9000,9100,9200,9300,9400,9500,9600,9700,9800,9900,10000], "labelExpr": "datum.value % 500 === 0 && datum.value !== 6000 && datum.value <= 9500 ? format(datum.value, ',') : ''", "labelOverlap": false, "tickSize": {"condition": {"test": "datum.value % 500 === 0", "value": 5}, "value": 2}, "grid": false, "labelAlign": "right", "labelPadding": 46, "minExtent": 55, "maxExtent": 55}}}
        },
        {
          "data": {"name": "ma"},
          "transform": [{"filter": "datum.k == '60'"}],
          "mark": {"type": "line", "strokeWidth": 1.2, "color": "#6d9fd6", "interpolate": "monotone"},
          "encoding": {"y": {"field": "v", "type": "quantitative", "scale": {"domain": [4017, 10082], "nice": false, "zero": false}, "axis": {"orient": "right", "title": null, "values": [4100,4200,4300,4400,4500,4600,4700,4800,4900,5000,5100,5200,5300,5400,5500,5600,5700,5800,5900,6000,6100,6200,6300,6400,6500,6600,6700,6800,6900,7000,7100,7200,7300,7400,7500,7600,7700,7800,7900,8000,8100,8200,8300,8400,8500,8600,8700,8800,8900,9000,9100,9200,9300,9400,9500,9600,9700,9800,9900,10000], "labelExpr": "datum.value % 500 === 0 && datum.value !== 6000 && datum.value <= 9500 ? format(datum.value, ',') : ''", "labelOverlap": false, "tickSize": {"condition": {"test": "datum.value % 500 === 0", "value": 5}, "value": 2}, "grid": false, "labelAlign": "right", "labelPadding": 46, "minExtent": 55, "maxExtent": 55}}}
        },
        {
          "data": {"name": "ma"},
          "transform": [{"filter": "datum.k == '20'"}],
          "mark": {"type": "line", "strokeWidth": 1.2, "color": "#cc70cc", "interpolate": "monotone"},
          "encoding": {"y": {"field": "v", "type": "quantitative", "scale": {"domain": [4017, 10082], "nice": false, "zero": false}, "axis": {"orient": "right", "title": null, "values": [4100,4200,4300,4400,4500,4600,4700,4800,4900,5000,5100,5200,5300,5400,5500,5600,5700,5800,5900,6000,6100,6200,6300,6400,6500,6600,6700,6800,6900,7000,7100,7200,7300,7400,7500,7600,7700,7800,7900,8000,8100,8200,8300,8400,8500,8600,8700,8800,8900,9000,9100,9200,9300,9400,9500,9600,9700,9800,9900,10000], "labelExpr": "datum.value % 500 === 0 && datum.value !== 6000 && datum.value <= 9500 ? format(datum.value, ',') : ''", "labelOverlap": false, "tickSize": {"condition": {"test": "datum.value % 500 === 0", "value": 5}, "value": 2}, "grid": false, "labelAlign": "right", "labelPadding": 46, "minExtent": 55, "maxExtent": 55}}}
        },
        {
          "data": {"name": "ma"},
          "transform": [{"filter": "datum.k == '240'"}],
          "mark": {"type": "line", "strokeWidth": 3, "color": "#7a22cc", "interpolate": "monotone"},
          "encoding": {"y": {"field": "v", "type": "quantitative", "scale": {"domain": [4017, 10082], "nice": false, "zero": false}, "axis": {"orient": "right", "title": null, "values": [4100,4200,4300,4400,4500,4600,4700,4800,4900,5000,5100,5200,5300,5400,5500,5600,5700,5800,5900,6000,6100,6200,6300,6400,6500,6600,6700,6800,6900,7000,7100,7200,7300,7400,7500,7600,7700,7800,7900,8000,8100,8200,8300,8400,8500,8600,8700,8800,8900,9000,9100,9200,9300,9400,9500,9600,9700,9800,9900,10000], "labelExpr": "datum.value % 500 === 0 && datum.value !== 6000 && datum.value <= 9500 ? format(datum.value, ',') : ''", "labelOverlap": false, "tickSize": {"condition": {"test": "datum.value % 500 === 0", "value": 5}, "value": 2}, "grid": false, "labelAlign": "right", "labelPadding": 46, "minExtent": 55, "maxExtent": 55}}}
        },
        {
          "data": {"name": "ma"},
          "transform": [{"filter": "datum.k == '45'"}],
          "mark": {"type": "line", "strokeWidth": 3, "color": "#0000ee", "interpolate": "monotone"},
          "encoding": {"y": {"field": "v", "type": "quantitative", "scale": {"domain": [4017, 10082], "nice": false, "zero": false}, "axis": {"orient": "right", "title": null, "values": [4100,4200,4300,4400,4500,4600,4700,4800,4900,5000,5100,5200,5300,5400,5500,5600,5700,5800,5900,6000,6100,6200,6300,6400,6500,6600,6700,6800,6900,7000,7100,7200,7300,7400,7500,7600,7700,7800,7900,8000,8100,8200,8300,8400,8500,8600,8700,8800,8900,9000,9100,9200,9300,9400,9500,9600,9700,9800,9900,10000], "labelExpr": "datum.value % 500 === 0 && datum.value !== 6000 && datum.value <= 9500 ? format(datum.value, ',') : ''", "labelOverlap": false, "tickSize": {"condition": {"test": "datum.value % 500 === 0", "value": 5}, "value": 2}, "grid": false, "labelAlign": "right", "labelPadding": 46, "minExtent": 55, "maxExtent": 55}}}
        },
        {
          "data": {"name": "c"},
          "transform": [{"window": [{"op": "mean", "field": "c", "as": "m5"}], "frame": [-4, 0], "sort": [{"field": "i"}]}],
          "mark": {"type": "line", "strokeWidth": 1, "color": "#18d818"},
          "encoding": {"y": {"field": "m5", "type": "quantitative", "scale": {"domain": [4017, 10082], "nice": false, "zero": false}, "axis": {"orient": "right", "title": null, "values": [4100,4200,4300,4400,4500,4600,4700,4800,4900,5000,5100,5200,5300,5400,5500,5600,5700,5800,5900,6000,6100,6200,6300,6400,6500,6600,6700,6800,6900,7000,7100,7200,7300,7400,7500,7600,7700,7800,7900,8000,8100,8200,8300,8400,8500,8600,8700,8800,8900,9000,9100,9200,9300,9400,9500,9600,9700,9800,9900,10000], "labelExpr": "datum.value % 500 === 0 && datum.value !== 6000 && datum.value <= 9500 ? format(datum.value, ',') : ''", "labelOverlap": false, "tickSize": {"condition": {"test": "datum.value % 500 === 0", "value": 5}, "value": 2}, "grid": false, "labelAlign": "right", "labelPadding": 46, "minExtent": 55, "maxExtent": 55}}}
        },
        {
          "data": {"name": "c"},
          "transform": [{"window": [{"op": "mean", "field": "c", "as": "m8"}], "frame": [-7, 0], "sort": [{"field": "i"}]}],
          "mark": {"type": "line", "strokeWidth": 3, "color": "#f20000"},
          "encoding": {"y": {"field": "m8", "type": "quantitative", "scale": {"domain": [4017, 10082], "nice": false, "zero": false}, "axis": {"orient": "right", "title": null, "values": [4100,4200,4300,4400,4500,4600,4700,4800,4900,5000,5100,5200,5300,5400,5500,5600,5700,5800,5900,6000,6100,6200,6300,6400,6500,6600,6700,6800,6900,7000,7100,7200,7300,7400,7500,7600,7700,7800,7900,8000,8100,8200,8300,8400,8500,8600,8700,8800,8900,9000,9100,9200,9300,9400,9500,9600,9700,9800,9900,10000], "labelExpr": "datum.value % 500 === 0 && datum.value !== 6000 && datum.value <= 9500 ? format(datum.value, ',') : ''", "labelOverlap": false, "tickSize": {"condition": {"test": "datum.value % 500 === 0", "value": 5}, "value": 2}, "grid": false, "labelAlign": "right", "labelPadding": 46, "minExtent": 55, "maxExtent": 55}}}
        },
        {
          "data": {"values": [
            {"i": 221.6, "i2": 224, "p": 9678, "p2": 9678, "g": "hi"},
            {"i": 224, "i2": 224, "p": 9678, "p2": 9600, "g": "hi"},
            {"i": 49.1, "i2": 49.1, "p": 4137, "p2": 4235, "g": "lo"},
            {"i": 49.1, "i2": 51.4, "p": 4137, "p2": 4137, "g": "lo"},
            {"i": 46.2, "i2": 48.5, "p": 7242, "p2": 7242, "g": "div"},
            {"i": 46.2, "i2": 46.2, "p": 7242, "p2": 4990, "g": "div"},
            {"i": 129, "i2": 129, "p": 6245, "p2": 6125, "g": "up"},
            {"i": 132, "i2": 132, "p": 8128, "p2": 8010, "g": "up"}
          ]},
          "mark": {"type": "rule", "strokeWidth": 1},
          "encoding": {
            "x2": {"field": "i2"},
            "y": {"field": "p", "type": "quantitative", "scale": {"domain": [4017, 10082], "nice": false, "zero": false}, "axis": {"orient": "right", "title": null, "values": [4100,4200,4300,4400,4500,4600,4700,4800,4900,5000,5100,5200,5300,5400,5500,5600,5700,5800,5900,6000,6100,6200,6300,6400,6500,6600,6700,6800,6900,7000,7100,7200,7300,7400,7500,7600,7700,7800,7900,8000,8100,8200,8300,8400,8500,8600,8700,8800,8900,9000,9100,9200,9300,9400,9500,9600,9700,9800,9900,10000], "labelExpr": "datum.value % 500 === 0 && datum.value !== 6000 && datum.value <= 9500 ? format(datum.value, ',') : ''", "labelOverlap": false, "tickSize": {"condition": {"test": "datum.value % 500 === 0", "value": 5}, "value": 2}, "grid": false, "labelAlign": "right", "labelPadding": 46, "minExtent": 55, "maxExtent": 55}},
            "y2": {"field": "p2"},
            "color": {"field": "g", "type": "nominal", "scale": {"domain": ["hi", "lo", "div", "up"], "range": ["#e00000", "#1f5fc8", "#0c7a0c", "#e00000"]}, "legend": null}
          }
        },
        {
          "data": {"values": [
            {"i": 224, "p": 9605, "g": "hi"},
            {"i": 49.1, "p": 4240, "g": "lo"},
            {"i": 46.2, "p": 4985, "g": "div"},
            {"i": 129, "p": 6130, "g": "up"},
            {"i": 132, "p": 8015, "g": "up"}
          ]},
          "mark": {"type": "point", "filled": true, "size": 18, "opacity": 1},
          "encoding": {
            "y": {"field": "p", "type": "quantitative", "scale": {"domain": [4017, 10082], "nice": false, "zero": false}, "axis": {"orient": "right", "title": null, "values": [4100,4200,4300,4400,4500,4600,4700,4800,4900,5000,5100,5200,5300,5400,5500,5600,5700,5800,5900,6000,6100,6200,6300,6400,6500,6600,6700,6800,6900,7000,7100,7200,7300,7400,7500,7600,7700,7800,7900,8000,8100,8200,8300,8400,8500,8600,8700,8800,8900,9000,9100,9200,9300,9400,9500,9600,9700,9800,9900,10000], "labelExpr": "datum.value % 500 === 0 && datum.value !== 6000 && datum.value <= 9500 ? format(datum.value, ',') : ''", "labelOverlap": false, "tickSize": {"condition": {"test": "datum.value % 500 === 0", "value": 5}, "value": 2}, "grid": false, "labelAlign": "right", "labelPadding": 46, "minExtent": 55, "maxExtent": 55}},
            "shape": {"field": "g", "type": "nominal", "scale": {"domain": ["hi", "lo", "div", "up"], "range": ["triangle-down", "triangle-up", "triangle-down", "triangle-down"]}, "legend": null},
            "color": {"field": "g", "type": "nominal", "scale": {"domain": ["hi", "lo", "div", "up"], "range": ["#e00000", "#1f5fc8", "#0c7a0c", "#e00000"]}, "legend": null}
          }
        },
        {
          "data": {"values": [{"t": "최고9,530(2023/09/15),53.22%", "i": 221.5, "p": 9678}]},
          "mark": {"type": "text", "align": "right", "baseline": "middle", "fontSize": 12, "color": "#e00000"},
          "encoding": {
            "y": {"field": "p", "type": "quantitative", "scale": {"domain": [4017, 10082], "nice": false, "zero": false}, "axis": {"orient": "right", "title": null, "values": [4100,4200,4300,4400,4500,4600,4700,4800,4900,5000,5100,5200,5300,5400,5500,5600,5700,5800,5900,6000,6100,6200,6300,6400,6500,6600,6700,6800,6900,7000,7100,7200,7300,7400,7500,7600,7700,7800,7900,8000,8100,8200,8300,8400,8500,8600,8700,8800,8900,9000,9100,9200,9300,9400,9500,9600,9700,9800,9900,10000], "labelExpr": "datum.value % 500 === 0 && datum.value !== 6000 && datum.value <= 9500 ? format(datum.value, ',') : ''", "labelOverlap": false, "tickSize": {"condition": {"test": "datum.value % 500 === 0", "value": 5}, "value": 2}, "grid": false, "labelAlign": "right", "labelPadding": 46, "minExtent": 55, "maxExtent": 55}},
            "text": {"field": "t"}
          }
        },
        {
          "data": {"values": [
            {"t": "최저4,310(2023/01/03),30.71%", "i": 51.65, "p": 4137, "g": "lo"},
            {"t": "배당락(0.00%)", "i": 48.7, "p": 7242, "g": "div"}
          ]},
          "mark": {"type": "text", "align": "left", "baseline": "middle", "fontSize": 12},
          "encoding": {
            "y": {"field": "p", "type": "quantitative", "scale": {"domain": [4017, 10082], "nice": false, "zero": false}, "axis": {"orient": "right", "title": null, "values": [4100,4200,4300,4400,4500,4600,4700,4800,4900,5000,5100,5200,5300,5400,5500,5600,5700,5800,5900,6000,6100,6200,6300,6400,6500,6600,6700,6800,6900,7000,7100,7200,7300,7400,7500,7600,7700,7800,7900,8000,8100,8200,8300,8400,8500,8600,8700,8800,8900,9000,9100,9200,9300,9400,9500,9600,9700,9800,9900,10000], "labelExpr": "datum.value % 500 === 0 && datum.value !== 6000 && datum.value <= 9500 ? format(datum.value, ',') : ''", "labelOverlap": false, "tickSize": {"condition": {"test": "datum.value % 500 === 0", "value": 5}, "value": 2}, "grid": false, "labelAlign": "right", "labelPadding": 46, "minExtent": 55, "maxExtent": 55}},
            "text": {"field": "t"},
            "color": {"field": "g", "type": "nominal", "scale": {"domain": ["lo", "div"], "range": ["#1f5fc8", "#0c7a0c"]}, "legend": null}
          }
        },
        {
          "data": {"values": [{"t": "상", "i": 129, "p": 6330}, {"t": "상", "i": 132, "p": 8215}]},
          "mark": {"type": "text", "align": "center", "baseline": "middle", "fontSize": 11, "color": "#e00000"},
          "encoding": {
            "y": {"field": "p", "type": "quantitative", "scale": {"domain": [4017, 10082], "nice": false, "zero": false}, "axis": {"orient": "right", "title": null, "values": [4100,4200,4300,4400,4500,4600,4700,4800,4900,5000,5100,5200,5300,5400,5500,5600,5700,5800,5900,6000,6100,6200,6300,6400,6500,6600,6700,6800,6900,7000,7100,7200,7300,7400,7500,7600,7700,7800,7900,8000,8100,8200,8300,8400,8500,8600,8700,8800,8900,9000,9100,9200,9300,9400,9500,9600,9700,9800,9900,10000], "labelExpr": "datum.value % 500 === 0 && datum.value !== 6000 && datum.value <= 9500 ? format(datum.value, ',') : ''", "labelOverlap": false, "tickSize": {"condition": {"test": "datum.value % 500 === 0", "value": 5}, "value": 2}, "grid": false, "labelAlign": "right", "labelPadding": 46, "minExtent": 55, "maxExtent": 55}},
            "text": {"field": "t"}
          }
        },
        {
          "data": {"values": [
            {"k": "가격(수정)", "i": 2.85, "p": 9900}, {"k": "5", "i": 16.1, "p": 9900}, {"k": "8", "i": 19.3, "p": 9900}, {"k": "20", "i": 22.8, "p": 9900}, {"k": "45", "i": 27.2, "p": 9900},
            {"k": "60", "i": 31.6, "p": 9900}, {"k": "120", "i": 36.0, "p": 9900}, {"k": "240", "i": 41.7, "p": 9900}, {"k": "락", "i": 47.2, "p": 9900}
          ]},
          "resolve": {"scale": {"color": "independent"}},
          "layer": [
            {
              "mark": {"type": "point", "shape": "M-0.25,-1L0.25,-1L0.25,1L-0.25,1Z", "size": 81, "filled": true, "opacity": 1},
              "encoding": {
                "y": {"field": "p", "type": "quantitative", "scale": {"domain": [4017, 10082], "nice": false, "zero": false}, "axis": {"orient": "right", "title": null, "values": [4100,4200,4300,4400,4500,4600,4700,4800,4900,5000,5100,5200,5300,5400,5500,5600,5700,5800,5900,6000,6100,6200,6300,6400,6500,6600,6700,6800,6900,7000,7100,7200,7300,7400,7500,7600,7700,7800,7900,8000,8100,8200,8300,8400,8500,8600,8700,8800,8900,9000,9100,9200,9300,9400,9500,9600,9700,9800,9900,10000], "labelExpr": "datum.value % 500 === 0 && datum.value !== 6000 && datum.value <= 9500 ? format(datum.value, ',') : ''", "labelOverlap": false, "tickSize": {"condition": {"test": "datum.value % 500 === 0", "value": 5}, "value": 2}, "grid": false, "labelAlign": "right", "labelPadding": 46, "minExtent": 55, "maxExtent": 55}},
                "color": {"field": "k", "type": "nominal", "scale": {"domain": ["가격(수정)", "5", "8", "20", "45", "60", "120", "240", "락"], "range": ["#e00000", "#18d818", "#f20000", "#cc70cc", "#0000ee", "#6d9fd6", "#3fb09c", "#7a22cc", "#0a7a0a"]}, "legend": null}
              }
            },
            {
              "mark": {"type": "text", "align": "left", "baseline": "middle", "fontSize": 12, "dx": 4},
              "encoding": {
                "y": {"field": "p", "type": "quantitative", "scale": {"domain": [4017, 10082], "nice": false, "zero": false}, "axis": {"orient": "right", "title": null, "values": [4100,4200,4300,4400,4500,4600,4700,4800,4900,5000,5100,5200,5300,5400,5500,5600,5700,5800,5900,6000,6100,6200,6300,6400,6500,6600,6700,6800,6900,7000,7100,7200,7300,7400,7500,7600,7700,7800,7900,8000,8100,8200,8300,8400,8500,8600,8700,8800,8900,9000,9100,9200,9300,9400,9500,9600,9700,9800,9900,10000], "labelExpr": "datum.value % 500 === 0 && datum.value !== 6000 && datum.value <= 9500 ? format(datum.value, ',') : ''", "labelOverlap": false, "tickSize": {"condition": {"test": "datum.value % 500 === 0", "value": 5}, "value": 2}, "grid": false, "labelAlign": "right", "labelPadding": 46, "minExtent": 55, "maxExtent": 55}},
                "text": {"field": "k"},
                "color": {"field": "k", "type": "nominal", "scale": {"domain": ["가격(수정)", "5", "8", "20", "45", "60", "120", "240", "락"], "range": ["#e00000", "#18d818", "#f20000", "#cc70cc", "#0000ee", "#6d9fd6", "#3fb09c", "#7a22cc", "#0a7a0a"]}, "legend": null}
              }
            }
          ]
        },
        {
          "data": {"values": [{"i": 1.1, "p": 9999, "g": "l"}, {"i": 274.3, "p": 9960, "g": "r"}, {"i": 276.0, "p": 9960, "g": "r"}]},
          "layer": [
            {
              "transform": [{"filter": "datum.g == 'l'"}],
              "mark": {"type": "point", "shape": "M-1,-0.5L1,-0.5L1,0.5L-1,0.5Z", "size": 100, "filled": true, "color": "#8c9cb8", "opacity": 1},
              "encoding": {"y": {"field": "p", "type": "quantitative", "scale": {"domain": [4017, 10082], "nice": false, "zero": false}, "axis": {"orient": "right", "title": null, "values": [4100,4200,4300,4400,4500,4600,4700,4800,4900,5000,5100,5200,5300,5400,5500,5600,5700,5800,5900,6000,6100,6200,6300,6400,6500,6600,6700,6800,6900,7000,7100,7200,7300,7400,7500,7600,7700,7800,7900,8000,8100,8200,8300,8400,8500,8600,8700,8800,8900,9000,9100,9200,9300,9400,9500,9600,9700,9800,9900,10000], "labelExpr": "datum.value % 500 === 0 && datum.value !== 6000 && datum.value <= 9500 ? format(datum.value, ',') : ''", "labelOverlap": false, "tickSize": {"condition": {"test": "datum.value % 500 === 0", "value": 5}, "value": 2}, "grid": false, "labelAlign": "right", "labelPadding": 46, "minExtent": 55, "maxExtent": 55}}}
            },
            {
              "transform": [{"filter": "datum.g == 'r'"}],
              "mark": {"type": "point", "shape": "square", "size": 49, "filled": true, "fill": "#e8edf4", "stroke": "#8090a8", "strokeWidth": 1, "opacity": 1},
              "encoding": {"y": {"field": "p", "type": "quantitative", "scale": {"domain": [4017, 10082], "nice": false, "zero": false}, "axis": {"orient": "right", "title": null, "values": [4100,4200,4300,4400,4500,4600,4700,4800,4900,5000,5100,5200,5300,5400,5500,5600,5700,5800,5900,6000,6100,6200,6300,6400,6500,6600,6700,6800,6900,7000,7100,7200,7300,7400,7500,7600,7700,7800,7900,8000,8100,8200,8300,8400,8500,8600,8700,8800,8900,9000,9100,9200,9300,9400,9500,9600,9700,9800,9900,10000], "labelExpr": "datum.value % 500 === 0 && datum.value !== 6000 && datum.value <= 9500 ? format(datum.value, ',') : ''", "labelOverlap": false, "tickSize": {"condition": {"test": "datum.value % 500 === 0", "value": 5}, "value": 2}, "grid": false, "labelAlign": "right", "labelPadding": 46, "minExtent": 55, "maxExtent": 55}}}
            }
          ]
        },
        {
          "data": {"values": [
            {"i": 276.95, "i2": 277.55, "p": 7340, "p2": 6220, "g": "a"}, {"i": 276.95, "i2": 277.55, "p": 6220, "p2": 5650, "g": "b"},
            {"i": 276.95, "i2": 277.55, "p": 5650, "p2": 5085, "g": "c"}, {"i": 276.95, "i2": 277.55, "p": 5085, "p2": 4017, "g": "d"},
            {"i": 279.8, "i2": 287.1, "p": 6341, "p2": 6110, "g": "box"}, {"i": 279.8, "i2": 287.1, "p": 6110, "p2": 5879, "g": "pct"}
          ]},
          "mark": {"type": "rect", "clip": false},
          "encoding": {
            "x2": {"field": "i2"},
            "y": {"field": "p", "type": "quantitative", "scale": {"domain": [4017, 10082], "nice": false, "zero": false}, "axis": {"orient": "right", "title": null, "values": [4100,4200,4300,4400,4500,4600,4700,4800,4900,5000,5100,5200,5300,5400,5500,5600,5700,5800,5900,6000,6100,6200,6300,6400,6500,6600,6700,6800,6900,7000,7100,7200,7300,7400,7500,7600,7700,7800,7900,8000,8100,8200,8300,8400,8500,8600,8700,8800,8900,9000,9100,9200,9300,9400,9500,9600,9700,9800,9900,10000], "labelExpr": "datum.value % 500 === 0 && datum.value !== 6000 && datum.value <= 9500 ? format(datum.value, ',') : ''", "labelOverlap": false, "tickSize": {"condition": {"test": "datum.value % 500 === 0", "value": 5}, "value": 2}, "grid": false, "labelAlign": "right", "labelPadding": 46, "minExtent": 55, "maxExtent": 55}},
            "y2": {"field": "p2"},
            "color": {"field": "g", "type": "nominal", "scale": {"domain": ["a", "b", "c", "d", "box", "pct"], "range": ["#e60000", "#f06c6c", "#6fa0e0", "#1f6fd5", "#e60000", "#ffffff"]}, "legend": null}
          }
        },
        {
          "data": {"values": [{"i": 276.9, "i2": 277.6, "p": 6780}, {"i": 276.9, "i2": 277.6, "p": 6220}, {"i": 276.9, "i2": 277.6, "p": 5650}, {"i": 276.9, "i2": 277.6, "p": 5085}, {"i": 276.9, "i2": 277.6, "p": 4520}]},
          "mark": {"type": "rule", "strokeWidth": 1, "color": "#000000", "clip": false},
          "encoding": {
            "x2": {"field": "i2"},
            "y": {"field": "p", "type": "quantitative", "scale": {"domain": [4017, 10082], "nice": false, "zero": false}, "axis": {"orient": "right", "title": null, "values": [4100,4200,4300,4400,4500,4600,4700,4800,4900,5000,5100,5200,5300,5400,5500,5600,5700,5800,5900,6000,6100,6200,6300,6400,6500,6600,6700,6800,6900,7000,7100,7200,7300,7400,7500,7600,7700,7800,7900,8000,8100,8200,8300,8400,8500,8600,8700,8800,8900,9000,9100,9200,9300,9400,9500,9600,9700,9800,9900,10000], "labelExpr": "datum.value % 500 === 0 && datum.value !== 6000 && datum.value <= 9500 ? format(datum.value, ',') : ''", "labelOverlap": false, "tickSize": {"condition": {"test": "datum.value % 500 === 0", "value": 5}, "value": 2}, "grid": false, "labelAlign": "right", "labelPadding": 46, "minExtent": 55, "maxExtent": 55}}
          }
        },
        {
          "data": {"values": [{"i": 278.6, "p": 6225}]},
          "mark": {"type": "point", "shape": "triangle-left", "size": 70, "filled": true, "color": "#e60000", "opacity": 1, "clip": false},
          "encoding": {
            "y": {"field": "p", "type": "quantitative", "scale": {"domain": [4017, 10082], "nice": false, "zero": false}, "axis": {"orient": "right", "title": null, "values": [4100,4200,4300,4400,4500,4600,4700,4800,4900,5000,5100,5200,5300,5400,5500,5600,5700,5800,5900,6000,6100,6200,6300,6400,6500,6600,6700,6800,6900,7000,7100,7200,7300,7400,7500,7600,7700,7800,7900,8000,8100,8200,8300,8400,8500,8600,8700,8800,8900,9000,9100,9200,9300,9400,9500,9600,9700,9800,9900,10000], "labelExpr": "datum.value % 500 === 0 && datum.value !== 6000 && datum.value <= 9500 ? format(datum.value, ',') : ''", "labelOverlap": false, "tickSize": {"condition": {"test": "datum.value % 500 === 0", "value": 5}, "value": 2}, "grid": false, "labelAlign": "right", "labelPadding": 46, "minExtent": 55, "maxExtent": 55}}
          }
        },
        {
          "data": {"values": [{"t": "6,220", "i": 283.45, "p": 6225, "g": "box"}, {"t": "10.09%", "i": 283.45, "p": 5995, "g": "pct"}]},
          "mark": {"type": "text", "align": "center", "baseline": "middle", "font": "Liberation Sans", "fontSize": 12, "clip": false},
          "encoding": {
            "y": {"field": "p", "type": "quantitative", "scale": {"domain": [4017, 10082], "nice": false, "zero": false}, "axis": {"orient": "right", "title": null, "values": [4100,4200,4300,4400,4500,4600,4700,4800,4900,5000,5100,5200,5300,5400,5500,5600,5700,5800,5900,6000,6100,6200,6300,6400,6500,6600,6700,6800,6900,7000,7100,7200,7300,7400,7500,7600,7700,7800,7900,8000,8100,8200,8300,8400,8500,8600,8700,8800,8900,9000,9100,9200,9300,9400,9500,9600,9700,9800,9900,10000], "labelExpr": "datum.value % 500 === 0 && datum.value !== 6000 && datum.value <= 9500 ? format(datum.value, ',') : ''", "labelOverlap": false, "tickSize": {"condition": {"test": "datum.value % 500 === 0", "value": 5}, "value": 2}, "grid": false, "labelAlign": "right", "labelPadding": 46, "minExtent": 55, "maxExtent": 55}},
            "text": {"field": "t"},
            "color": {"field": "g", "type": "nominal", "scale": {"domain": ["box", "pct"], "range": ["#ffffff", "#e60000"]}, "legend": null}
          }
        }
      ]
    },
    {
      "width": 1512,
      "height": 94,
      "encoding": {
        "x": {"field": "i", "type": "quantitative", "scale": {"domain": [-0.735, 277.2], "nice": false, "zero": false},
              "axis": {"values": [5, 27, 48, 68, 88, 110, 130, 150, 171, 192, 214, 233, 252], "labels": false, "ticks": false, "domain": false, "grid": true, "gridDash": [1, 3], "title": null}}
      },
      "layer": [
        {
          "data": {"values": [{"i": -0.735, "i2": 277.2, "v": 10000000}]},
          "mark": {"type": "rule", "strokeWidth": 1, "strokeDash": [1, 2], "color": "#b2bac6"},
          "encoding": {
            "x2": {"field": "i2"},
            "y": {"field": "v", "type": "quantitative", "scale": {"domain": [0, 22900000], "nice": false}, "axis": {"orient": "right", "title": null, "values": [2000000, 4000000, 6000000, 8000000, 10000000, 12000000, 14000000, 16000000, 18000000, 20000000, 22000000], "labelExpr": "datum.value === 10000000 ? '100,000' : (datum.value === 2000000 ? '×100' : '')", "labelOverlap": false, "tickSize": {"condition": {"test": "datum.value === 10000000", "value": 5}, "value": 2}, "grid": false, "labelAlign": "right", "labelPadding": 46, "minExtent": 55, "maxExtent": 55}}
          }
        },
        {
          "data": {"name": "c"},
          "mark": {"type": "bar", "width": 3},
          "encoding": {
            "y": {"field": "v", "type": "quantitative", "scale": {"domain": [0, 22900000], "nice": false}, "axis": {"orient": "right", "title": null, "values": [2000000, 4000000, 6000000, 8000000, 10000000, 12000000, 14000000, 16000000, 18000000, 20000000, 22000000], "labelExpr": "datum.value === 10000000 ? '100,000' : (datum.value === 2000000 ? '×100' : '')", "labelOverlap": false, "tickSize": {"condition": {"test": "datum.value === 10000000", "value": 5}, "value": 2}, "grid": false, "labelAlign": "right", "labelPadding": 46, "minExtent": 55, "maxExtent": 55}},
            "color": {"condition": [{"test": "datum.c > datum.o", "value": "#ee0000"}, {"test": "datum.c < datum.o", "value": "#1f6fd5"}], "value": "#000000"}
          }
        },
        {
          "data": {"values": [{"i": 2.85, "t": "거래량", "v": 20300000}]},
          "layer": [
            {
              "mark": {"type": "point", "shape": "M-0.25,-1L0.25,-1L0.25,1L-0.25,1Z", "size": 81, "filled": true, "color": "#b8a630", "opacity": 1},
              "encoding": {"y": {"field": "v", "type": "quantitative", "scale": {"domain": [0, 22900000], "nice": false}, "axis": {"orient": "right", "title": null, "values": [2000000, 4000000, 6000000, 8000000, 10000000, 12000000, 14000000, 16000000, 18000000, 20000000, 22000000], "labelExpr": "datum.value === 10000000 ? '100,000' : (datum.value === 2000000 ? '×100' : '')", "labelOverlap": false, "tickSize": {"condition": {"test": "datum.value === 10000000", "value": 5}, "value": 2}, "grid": false, "labelAlign": "right", "labelPadding": 46, "minExtent": 55, "maxExtent": 55}}}
            },
            {
              "mark": {"type": "text", "align": "left", "baseline": "middle", "fontSize": 12, "dx": 4, "color": "#b8a630"},
              "encoding": {"y": {"field": "v", "type": "quantitative", "scale": {"domain": [0, 22900000], "nice": false}, "axis": {"orient": "right", "title": null, "values": [2000000, 4000000, 6000000, 8000000, 10000000, 12000000, 14000000, 16000000, 18000000, 20000000, 22000000], "labelExpr": "datum.value === 10000000 ? '100,000' : (datum.value === 2000000 ? '×100' : '')", "labelOverlap": false, "tickSize": {"condition": {"test": "datum.value === 10000000", "value": 5}, "value": 2}, "grid": false, "labelAlign": "right", "labelPadding": 46, "minExtent": 55, "maxExtent": 55}}, "text": {"field": "t"}}
            }
          ]
        },
        {
          "data": {"values": [{"i": 0.74, "v": 21500000, "g": "l"}, {"i": 274.3, "v": 21200000, "g": "r"}, {"i": 276.0, "v": 21200000, "g": "r"}]},
          "layer": [
            {
              "transform": [{"filter": "datum.g == 'l'"}],
              "mark": {"type": "point", "shape": "M-1,-0.5L1,-0.5L1,0.5L-1,0.5Z", "size": 100, "filled": true, "color": "#8c9cb8", "opacity": 1},
              "encoding": {"y": {"field": "v", "type": "quantitative", "scale": {"domain": [0, 22900000], "nice": false}, "axis": {"orient": "right", "title": null, "values": [2000000, 4000000, 6000000, 8000000, 10000000, 12000000, 14000000, 16000000, 18000000, 20000000, 22000000], "labelExpr": "datum.value === 10000000 ? '100,000' : (datum.value === 2000000 ? '×100' : '')", "labelOverlap": false, "tickSize": {"condition": {"test": "datum.value === 10000000", "value": 5}, "value": 2}, "grid": false, "labelAlign": "right", "labelPadding": 46, "minExtent": 55, "maxExtent": 55}}}
            },
            {
              "transform": [{"filter": "datum.g == 'r'"}],
              "mark": {"type": "point", "shape": "square", "size": 49, "filled": true, "fill": "#e8edf4", "stroke": "#8090a8", "strokeWidth": 1, "opacity": 1},
              "encoding": {"y": {"field": "v", "type": "quantitative", "scale": {"domain": [0, 22900000], "nice": false}, "axis": {"orient": "right", "title": null, "values": [2000000, 4000000, 6000000, 8000000, 10000000, 12000000, 14000000, 16000000, 18000000, 20000000, 22000000], "labelExpr": "datum.value === 10000000 ? '100,000' : (datum.value === 2000000 ? '×100' : '')", "labelOverlap": false, "tickSize": {"condition": {"test": "datum.value === 10000000", "value": 5}, "value": 2}, "grid": false, "labelAlign": "right", "labelPadding": 46, "minExtent": 55, "maxExtent": 55}}}
            }
          ]
        }
      ]
    },
    {
      "width": 1512,
      "height": 127,
      "encoding": {
        "x": {"field": "i", "type": "quantitative", "scale": {"domain": [-0.735, 277.2], "nice": false, "zero": false},
              "axis": {"values": [0, 5, 27, 48, 68, 88, 110, 130, 150, 171, 192, 214, 233, 252],
                       "labelExpr": "['2022/10/25','','12','2023/01','02','03','04','05','06','07','08','09','10','11'][indexof([0,5,27,48,68,88,110,130,150,171,192,214,233,252], datum.value)]",
                       "labelOverlap": false, "labelFlush": false,
                       "tickSize": 5,
                       "tickOpacity": {"condition": {"test": "datum.value === 5", "value": 0}, "value": 1},
                       "grid": true, "gridDash": [1, 3],
                       "gridOpacity": {"condition": {"test": "datum.value === 0", "value": 0}, "value": 1},
                       "labelAlign": "left", "labelOffset": 2, "labelPadding": 1, "labelBaseline": "top", "labelColor": "#1b1b3a",
                       "domain": false, "minExtent": 20, "maxExtent": 20, "title": null}}
      },
      "layer": [
        {
          "data": {"values": [{"i": -0.735, "i2": 277.2, "f": 1}, {"i": -0.735, "i2": 277.2, "f": 2}, {"i": -0.735, "i2": 277.2, "f": 3}, {"i": -0.735, "i2": 277.2, "f": 4}, {"i": -0.735, "i2": 277.2, "f": 5}]},
          "mark": {"type": "rule", "strokeWidth": 1, "strokeDash": [1, 2], "color": "#b2bac6"},
          "encoding": {
            "x2": {"field": "i2"},
            "y": {"field": "f", "type": "quantitative", "scale": {"domain": [0.552, 6.876], "nice": false, "zero": false}, "axis": {"orient": "right", "title": null, "values": [1, 2, 3, 4, 5], "format": ".2f", "grid": false, "labelOverlap": false, "labelAlign": "right", "labelPadding": 46, "minExtent": 55, "maxExtent": 55}}
          }
        },
        {
          "data": {"name": "c"},
          "mark": {"type": "bar", "width": 3, "color": "#ff8080"},
          "encoding": {
            "y": {"field": "f", "type": "quantitative", "scale": {"domain": [0.552, 6.876], "nice": false, "zero": false}, "axis": {"orient": "right", "title": null, "values": [1, 2, 3, 4, 5], "format": ".2f", "grid": false, "labelOverlap": false, "labelAlign": "right", "labelPadding": 46, "minExtent": 55, "maxExtent": 55}},
            "y2": {"datum": 0.552}
          }
        },
        {
          "data": {"values": [{"i": 2.85, "t": "외국인보유비중", "f": 6.38}]},
          "layer": [
            {
              "mark": {"type": "point", "shape": "M-0.25,-1L0.25,-1L0.25,1L-0.25,1Z", "size": 81, "filled": true, "color": "#f07878", "opacity": 1},
              "encoding": {"y": {"field": "f", "type": "quantitative", "scale": {"domain": [0.552, 6.876], "nice": false, "zero": false}, "axis": {"orient": "right", "title": null, "values": [1, 2, 3, 4, 5], "format": ".2f", "grid": false, "labelOverlap": false, "labelAlign": "right", "labelPadding": 46, "minExtent": 55, "maxExtent": 55}}}
            },
            {
              "mark": {"type": "text", "align": "left", "baseline": "middle", "fontSize": 12, "dx": 4, "color": "#f07878"},
              "encoding": {"y": {"field": "f", "type": "quantitative", "scale": {"domain": [0.552, 6.876], "nice": false, "zero": false}, "axis": {"orient": "right", "title": null, "values": [1, 2, 3, 4, 5], "format": ".2f", "grid": false, "labelOverlap": false, "labelAlign": "right", "labelPadding": 46, "minExtent": 55, "maxExtent": 55}}, "text": {"field": "t"}}
            }
          ]
        },
        {
          "data": {"values": [{"i": 0.74, "f": 6.6}, {"i": 274.3, "f": 6.53}, {"i": 276.0, "f": 6.53}]},
          "layer": [
            {
              "transform": [{"filter": "datum.i < 100"}],
              "mark": {"type": "point", "shape": "M-1,-0.5L1,-0.5L1,0.5L-1,0.5Z", "size": 100, "filled": true, "color": "#8c9cb8", "opacity": 1},
              "encoding": {"y": {"field": "f", "type": "quantitative", "scale": {"domain": [0.552, 6.876], "nice": false, "zero": false}, "axis": {"orient": "right", "title": null, "values": [1, 2, 3, 4, 5], "format": ".2f", "grid": false, "labelOverlap": false, "labelAlign": "right", "labelPadding": 46, "minExtent": 55, "maxExtent": 55}}}
            },
            {
              "transform": [{"filter": "datum.i > 100"}],
              "mark": {"type": "point", "shape": "square", "size": 49, "filled": true, "fill": "#e8edf4", "stroke": "#8090a8", "strokeWidth": 1, "opacity": 1},
              "encoding": {"y": {"field": "f", "type": "quantitative", "scale": {"domain": [0.552, 6.876], "nice": false, "zero": false}, "axis": {"orient": "right", "title": null, "values": [1, 2, 3, 4, 5], "format": ".2f", "grid": false, "labelOverlap": false, "labelAlign": "right", "labelPadding": 46, "minExtent": 55, "maxExtent": 55}}}
            }
          ]
        }
      ]
    }
  ]
}
